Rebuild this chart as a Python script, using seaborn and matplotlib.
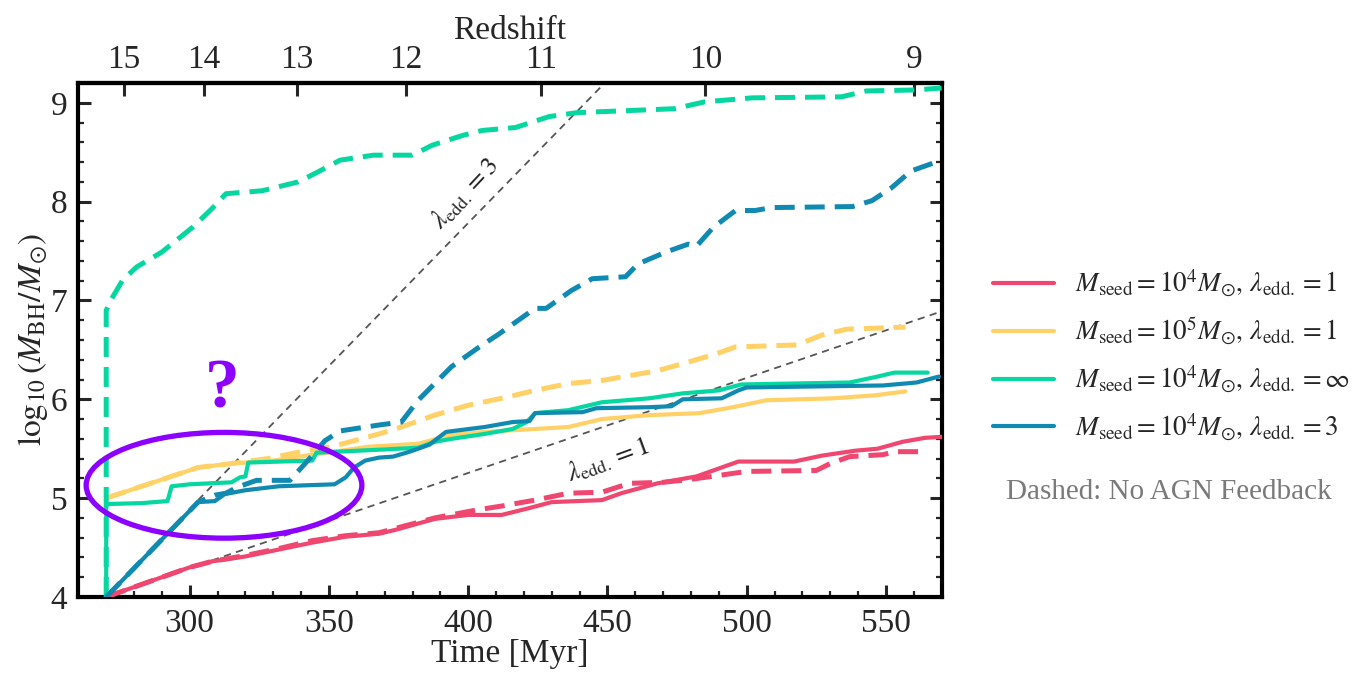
import matplotlib
matplotlib.use("Agg")
import matplotlib.pyplot as plt
import seaborn as sns
from matplotlib.patches import Ellipse
from matplotlib.ticker import MultipleLocator

sns.set_theme(style="ticks")
plt.rcParams["font.family"] = ["Liberation Serif", "DejaVu Serif"]
plt.rcParams["mathtext.fontset"] = "stix"

# ---------------------------------------------------------------------------
# Black-hole growth histories: time [Myr] vs log10(M_BH / M_sun)
# ---------------------------------------------------------------------------
# Mseed = 1e4, lambda_edd = 1
red_fb_t = [270, 284, 300, 303, 308, 320, 332, 344, 356, 368, 374, 388, 400, 412,
            422, 430, 448, 455, 468, 482, 497, 517, 527, 539, 547, 556, 564, 570]
red_fb_y = [4.00, 4.14, 4.30, 4.32, 4.36, 4.41, 4.48, 4.55, 4.61, 4.64, 4.68, 4.79, 4.83, 4.83,
            4.90, 4.96, 4.98, 5.05, 5.15, 5.22, 5.37, 5.37, 5.43, 5.48, 5.50, 5.57, 5.61, 5.62]
red_nofb_t = [270, 284, 300, 308, 320, 332, 344, 356, 368, 376, 388, 403, 412, 424, 436,
              448, 458, 470, 480, 490, 500, 525, 530, 537, 549, 553, 564]
red_nofb_y = [4.00, 4.14, 4.30, 4.36, 4.42, 4.49, 4.57, 4.62, 4.65, 4.71, 4.80, 4.88, 4.92, 4.98, 5.05,
              5.06, 5.15, 5.16, 5.19, 5.23, 5.27, 5.28, 5.35, 5.42, 5.44, 5.47, 5.47]

# Mseed = 1e5, lambda_edd = 1
yel_fb_t = [270, 303, 315, 330, 344, 352, 364, 382, 394, 406, 418, 436, 448, 465,
            483, 495, 507, 531, 546, 557]
yel_fb_y = [5.00, 5.31, 5.35, 5.38, 5.44, 5.47, 5.52, 5.55, 5.64, 5.67, 5.69, 5.72, 5.80, 5.84,
            5.86, 5.92, 5.99, 6.01, 6.04, 6.08]
yel_nofb_t = [270, 303, 315, 328, 340, 351, 368, 376, 388, 400, 412, 424, 436, 448, 458,
              468, 477, 489, 496, 518, 527, 536, 557]
yel_nofb_y = [5.00, 5.31, 5.35, 5.40, 5.47, 5.52, 5.65, 5.72, 5.84, 5.94, 6.01, 6.09, 6.16, 6.19, 6.24,
              6.29, 6.36, 6.46, 6.53, 6.55, 6.65, 6.71, 6.73]

# Mseed = 1e4, lambda_edd = infinity
grn_fb_t = [270, 270, 283, 292, 293.5, 300, 315, 318, 320, 321, 344, 345.5, 368, 382, 388,
            394, 406, 416, 421, 424, 436, 448, 465, 477, 490, 498, 537, 547, 553, 565]
grn_fb_y = [4.00, 4.94, 4.95, 4.97, 5.12, 5.14, 5.16, 5.21, 5.22, 5.36, 5.38, 5.46, 5.49, 5.51, 5.57,
            5.60, 5.65, 5.70, 5.77, 5.86, 5.89, 5.97, 6.01, 6.06, 6.09, 6.15, 6.17, 6.23, 6.27, 6.27]
grn_nofb_t = [270, 270, 272, 276, 281, 290, 301, 308, 313, 326, 339, 346, 354, 366, 380,
              387, 398, 405, 417, 429, 439, 474, 485, 502, 534, 543, 561, 570]
grn_nofb_y = [4.00, 6.90, 7.02, 7.21, 7.34, 7.49, 7.74, 7.93, 8.08, 8.11, 8.20, 8.30, 8.42, 8.47, 8.47,
              8.57, 8.67, 8.72, 8.75, 8.86, 8.90, 8.94, 9.01, 9.05, 9.06, 9.12, 9.13, 9.15]

# Mseed = 1e4, lambda_edd = 3
blu_fb_t = [270, 303, 309, 312.5, 320, 332, 352, 356, 359, 363, 368, 373, 379, 386, 392,
            406, 416, 422, 424, 441, 446, 465, 473, 477, 491, 497, 500, 549, 561, 569]
blu_fb_y = [4.00, 4.96, 4.97, 5.04, 5.08, 5.12, 5.14, 5.21, 5.31, 5.38, 5.41, 5.42, 5.47, 5.54, 5.67,
            5.72, 5.77, 5.78, 5.86, 5.87, 5.91, 5.92, 5.93, 6.00, 6.01, 6.09, 6.12, 6.14, 6.17, 6.23]
blu_nofb_t = [270, 303, 309, 313, 317, 324, 336, 343, 348.5, 354, 368, 376, 382, 394, 404,
              411, 424, 428, 437, 444.5, 456.5, 461, 471, 479, 482, 488, 496, 503, 509,
              538, 545, 552, 559, 568]
blu_nofb_y = [4.00, 4.96, 5.03, 5.05, 5.11, 5.18, 5.18, 5.40, 5.58, 5.68, 5.74, 5.77, 5.99, 6.33, 6.53,
              6.66, 6.92, 6.92, 7.10, 7.22, 7.24, 7.37, 7.49, 7.57, 7.55, 7.74, 7.91, 7.91, 7.94,
              7.95, 8.01, 8.14, 8.31, 8.40]

# Constant-Eddington-ratio growth guides
edd1_t = [308, 570]
edd1_y = [4.37, 6.89]
edd3_t = [303, 449]
edd3_y = [4.98, 9.20]

# Redshift axis
redshift_labels = ["15", "14", "13", "12", "11", "10", "9"]
redshift_time = [276.4, 305.1, 338.6, 377.5, 426.0, 485.2, 560.0]

legend_labels = [
    r"$M_{\rm seed} = 10^4 M_{\odot},\, \lambda_{\rm edd.} = 1$",
    r"$M_{\rm seed} = 10^5 M_{\odot},\, \lambda_{\rm edd.} = 1$",
    r"$M_{\rm seed} = 10^4 M_{\odot},\, \lambda_{\rm edd.} = \infty$",
    r"$M_{\rm seed} = 10^4 M_{\odot},\, \lambda_{\rm edd.} = 3$",
]

RED, YELLOW, GREEN, BLUE = "#EF476F", "#FFD166", "#06D6A0", "#118AB2"
PURPLE = "#8C00FF"
GUIDE = "#555555"

fig = plt.figure(figsize=(13.58, 6.75), dpi=100)
ax = fig.add_axes([0.0577, 0.1156, 0.6357, 0.7614])

# guide lines
for gt, gy in [(edd1_t, edd1_y), (edd3_t, edd3_y)]:
    sns.lineplot(x=gt, y=gy, ax=ax, color=GUIDE, linewidth=1.3,
                 linestyle=(0, (4, 3)), estimator=None, sort=False, legend=False, zorder=1)

series = [
    (red_nofb_t, red_nofb_y, red_fb_t, red_fb_y, RED),
    (yel_nofb_t, yel_nofb_y, yel_fb_t, yel_fb_y, YELLOW),
    (grn_nofb_t, grn_nofb_y, grn_fb_t, grn_fb_y, GREEN),
    (blu_nofb_t, blu_nofb_y, blu_fb_t, blu_fb_y, BLUE),
]
handles = []
for nt, ny, ft, fy, col in series:
    sns.lineplot(x=nt, y=ny, ax=ax, color=col, linewidth=3.6, linestyle=(0, (4, 2)),
                 estimator=None, sort=False, legend=False, zorder=3)
    sns.lineplot(x=ft, y=fy, ax=ax, color=col, linewidth=3.0, linestyle="-",
                 estimator=None, sort=False, legend=False, zorder=3)
    handles.append(ax.lines[-1])

ax.set_xlim(260, 570)
ax.set_ylim(4, 9.2)

ax.xaxis.set_major_locator(MultipleLocator(50))
ax.xaxis.set_minor_locator(MultipleLocator(10))
ax.yaxis.set_major_locator(MultipleLocator(1))
ax.yaxis.set_minor_locator(MultipleLocator(0.2))
ax.tick_params(which="both", direction="in", top=False, right=True, labelsize=24)
ax.tick_params(which="major", length=9, width=2.2, pad=8)
ax.tick_params(which="minor", length=4.5, width=1.6)
for sp in ax.spines.values():
    sp.set_linewidth(3)
    sp.set_color("black")

ax.set_xlabel("Time [Myr]", fontsize=24, labelpad=0)
ax.set_ylabel(r"$\log_{10}(M_{\rm BH}/M_{\odot})$", fontsize=24, labelpad=0)

secax = ax.secondary_xaxis("top")
secax.set_xticks(redshift_time, labels=redshift_labels)
secax.tick_params(direction="in", length=9, width=2.2, labelsize=24, pad=6)
secax.spines["top"].set_linewidth(3)
secax.set_xlabel("Redshift", fontsize=24, labelpad=4)

# guide labels
ax.text(398.8, 8.08, r"$\lambda_{\rm edd.} = 3$", rotation=47, fontsize=19,
        ha="center", va="center", rotation_mode="anchor", color="#222222")
ax.text(450.1, 5.39, r"$\lambda_{\rm edd.} = 1$", rotation=20, fontsize=19,
        ha="center", va="center", rotation_mode="anchor", color="#222222")

# highlighted early-growth region
ax.add_patch(Ellipse((312.3, 5.13), 99, 1.07, fill=False, edgecolor=PURPLE,
                     linewidth=3.8, zorder=6))
ax.text(311.6, 6.09, "?", color=PURPLE, fontsize=50, fontweight="bold",
        ha="center", va="center", zorder=6)

fig.legend(handles, legend_labels, loc="center left", bbox_to_anchor=(0.731, 0.474),
           frameon=False, fontsize=19.5, handlelength=2.25, handletextpad=0.8,
           labelspacing=0.6, borderpad=0, borderaxespad=0)
fig.text(0.861, 0.271, "Dashed: No AGN Feedback", color="#7a7a7a", fontsize=21,
         ha="center", va="center")

fig.savefig("out.png", dpi=100)
